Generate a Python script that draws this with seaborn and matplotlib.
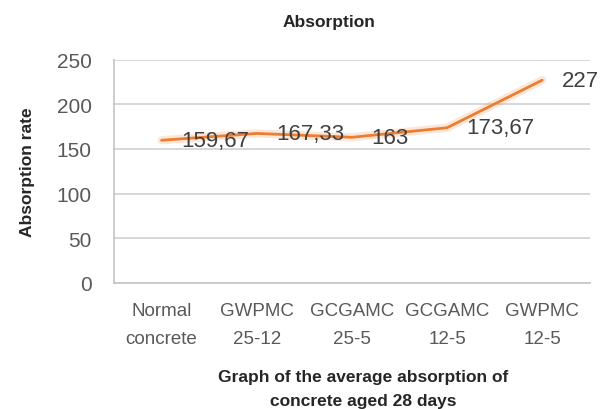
import matplotlib
matplotlib.use("Agg")
import matplotlib.pyplot as plt
import seaborn as sns
import pandas as pd

# Average 28-day absorption per concrete mix
categories = ["Normal\nconcrete", "GWPMC\n25-12", "GCGAMC\n25-5", "GCGAMC\n12-5", "GWPMC\n12-5"]
absorption = [159.67, 167.33, 163, 173.67, 227]
value_labels = ["159,67", "167,33", "163", "173,67", "227"]
y_ticks = [0, 50, 100, 150, 200, 250]

df = pd.DataFrame({"mix": categories, "absorption": absorption})

sns.set_theme(style="white")
plt.rcParams["font.family"] = ["Liberation Sans", "DejaVu Sans"]

fig = plt.figure(figsize=(6.03, 4.10), dpi=100)
ax = fig.add_axes([0.189, 0.308, 0.978 - 0.189, 0.852 - 0.308])

line_color = "#ED7D31"
sns.lineplot(data=df, x="mix", y="absorption", ax=ax, color=line_color,
             linewidth=6, alpha=0.18, sort=False, zorder=3)
sns.lineplot(data=df, x="mix", y="absorption", ax=ax, color=line_color,
             linewidth=2.0, sort=False, zorder=4)

ax.set_xlim(-0.5, len(categories) - 0.5)
ax.set_ylim(0, 250)
ax.set_yticks(y_ticks)
ax.yaxis.grid(True, color="#d4d4d4", linewidth=1.3)
ax.xaxis.grid(False)

for side in ["top", "right"]:
    ax.spines[side].set_visible(False)
for side in ["left", "bottom"]:
    ax.spines[side].set_color("#c8c8c8")
    ax.spines[side].set_linewidth(1.3)

ax.tick_params(axis="y", length=0, pad=16, labelsize=15, labelcolor="#595959")
ax.tick_params(axis="x", length=0, pad=14, labelsize=13.5, labelcolor="#595959")
for lbl in ax.get_xticklabels():
    lbl.set_linespacing(1.85)

# value labels to the right of each point
for i, (v, txt) in enumerate(zip(absorption, value_labels)):
    ax.annotate(txt, xy=(i, v), xytext=(14, 0), textcoords="offset points",
                ha="left", va="center", fontsize=16, color="#404040", zorder=5)

ax.set_title("Absorption", fontsize=12.5, fontweight="bold", color="#262626",
             x=0.452, y=1.169, va="center", pad=0)
ax.set_ylabel("Absorption rate", fontsize=12.5, fontweight="bold", color="#262626",
              va="center")
ax.yaxis.set_label_coords(-0.181, 0.5)
ax.set_xlabel("Graph of the average absorption of\nconcrete aged 28 days",
              fontsize=12.5, fontweight="bold", color="#262626", va="center",
              linespacing=1.7)
ax.xaxis.set_label_coords(0.523, -0.475)

fig.savefig("out.png", dpi=100, facecolor="white")
